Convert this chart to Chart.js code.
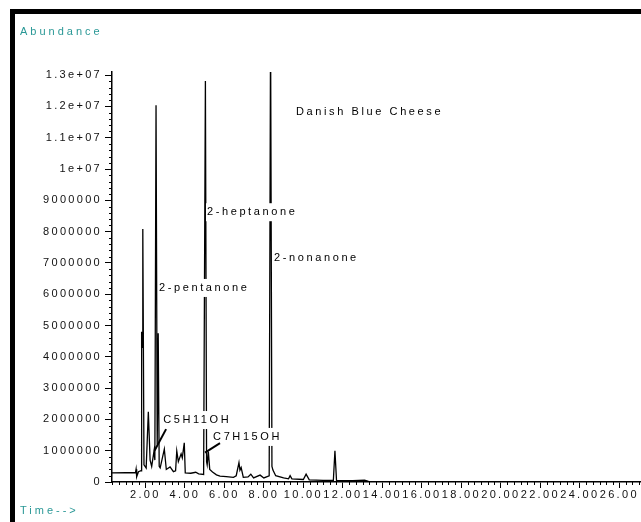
<!DOCTYPE html>
<html>
<head>
<meta charset="utf-8">
<script src="https://cdn.jsdelivr.net/npm/chart.js@4.4.1/dist/chart.umd.min.js"></script>
<style>
  html, body { margin: 0; padding: 0; background: #fff; overflow: hidden; }
  #chart_canvas { display: block; }
</style>
</head>
<body>
<canvas id="chart_canvas" width="641" height="522"></canvas>
<script>
// retention time (min) and abundance
const times = [
  0.31, 1.0, 1.50, 1.53, 1.56, 1.65, 1.78, 1.81, 1.83, 1.87, 1.93, 2.04, 2.15, 2.24, 2.32,
  2.44, 2.48, 2.54, 2.60, 2.65, 2.70, 2.75, 2.96, 3.06, 3.25, 3.42, 3.53, 3.59, 3.67, 3.81,
  3.87, 3.97, 4.02, 4.3, 4.55, 4.7, 4.95, 5.04, 5.10, 5.13, 5.19, 5.26, 5.4, 5.6, 5.78,
  6.1, 6.46, 6.6, 6.74, 6.79, 6.85, 6.96, 7.2, 7.34, 7.48, 7.81, 8.0, 8.27, 8.34, 8.41,
  8.46, 8.6, 9.0, 9.25, 9.33, 9.42, 10.0, 10.14, 10.3, 11.0, 11.52, 11.60, 11.68, 12.5, 13.1,
  13.3, 14.0, 16.0, 27.1,
]
const abundance = [
  290000, 295000, 300000, 410000, 170000, 330000, 360000, 4800000, 4300000, 8080000, 550000, 450000, 2240000, 700000, 500000,
  1000000, 700000, 12040000, 1200000, 4750000, 500000, 450000, 1050000, 400000, 480000, 330000, 360000, 990000, 650000, 900000,
  770000, 1250000, 290000, 280000, 310000, 260000, 240000, 12810000, 650000, 550000, 970000, 400000, 320000, 230000, 190000,
  170000, 150000, 200000, 620000, 380000, 460000, 150000, 160000, 250000, 130000, 220000, 130000, 200000, 14500000, 500000,
  380000, 200000, 130000, 100000, 200000, 100000, 80000, 250000, 70000, 50000, 50000, 1000000, 50000, 40000, 60000,
  20000, 10000, 0, 0,
]

// axis ranges and tick steps
const xMin = 0.31, xMax = 27.1, xStep = 2, xMinorStep = 1 / 3
const yMin = 0, yMax = 13100000, yStep = 1000000, yMinorStep = 200000

// peak labels (anchored in data units)
const peakNames = ['2-pentanone', '2-heptanone', '2-nonanone', 'C5H11OH', 'C7H15OH', 'Danish Blue Cheese']
const peakTimes = [2.69, 5.12, 8.52, 2.90, 5.43, 9.63]
const peakLevels = [6200000, 8620000, 7150000, 1980000, 1440000, 11820000]
// leader lines: [t1, a1, t2, a2]
const leaders = [
  [3.05, 1690000, 2.46, 1000000],
  [5.78, 1240000, 5.02, 940000],
]

const FONT = '"Liberation Sans", Arial, sans-serif'
const TEAL = '#2a9896'

const frame_plugin = {
  id: 'frame',
  beforeDraw(chart) {
    const ctx = chart.ctx
    ctx.letterSpacing = '2.3px'
    ctx.save()
    ctx.fillStyle = '#000'
    ctx.fillRect(10, 9, 631, 5)
    ctx.fillRect(10, 9, 5, 513)
    ctx.fillStyle = TEAL
    ctx.font = '11px ' + FONT
    ctx.letterSpacing = '3px'
    ctx.textBaseline = 'middle'
    ctx.fillText('Abundance', 20, 32)
    ctx.fillText('Time-->', 20, 511)
    ctx.restore()
  },
}

const labels_plugin = {
  id: 'peakLabels',
  afterDatasetsDraw(chart) {
    const ctx = chart.ctx
    const x = chart.scales.x
    const y = chart.scales.y
    ctx.save()
    ctx.font = '11px ' + FONT
    ctx.letterSpacing = '2.6px'
    ctx.textBaseline = 'middle'
    for (let i = 0; i < peakNames.length; i++) {
      const px = x.getPixelForValue(peakTimes[i])
      const py = y.getPixelForValue(peakLevels[i])
      const w = ctx.measureText(peakNames[i]).width
      ctx.fillStyle = '#fff'
      ctx.fillRect(px - 1, py - 9, w, 18)
      ctx.fillStyle = '#000'
      ctx.fillText(peakNames[i], px, py)
    }
    ctx.strokeStyle = '#000'
    ctx.lineWidth = 2
    for (const l of leaders) {
      ctx.beginPath()
      ctx.moveTo(x.getPixelForValue(l[0]), y.getPixelForValue(l[1]))
      ctx.lineTo(x.getPixelForValue(l[2]), y.getPixelForValue(l[3]))
      ctx.stroke()
    }
    ctx.restore()
  },
  afterDraw(chart) {
    // minor tick marks
    const ctx = chart.ctx
    const x = chart.scales.x
    const y = chart.scales.y
    const area = chart.chartArea
    ctx.save()
    ctx.strokeStyle = '#000'
    ctx.lineWidth = 1
    ctx.beginPath()
    for (let k = Math.ceil(xMin / xMinorStep); k * xMinorStep <= xMax; k++) {
      if (k % 6 == 0) continue
      const px = Math.round(x.getPixelForValue(k * xMinorStep)) + 0.5
      ctx.moveTo(px, area.bottom)
      ctx.lineTo(px, area.bottom + 3)
    }
    for (let k = 0; k * yMinorStep <= yMax; k++) {
      if (k % 5 == 0) continue
      const py = Math.round(y.getPixelForValue(k * yMinorStep)) + 0.5
      ctx.moveTo(area.left, py)
      ctx.lineTo(area.left - 3, py)
    }
    ctx.stroke()
    ctx.restore()
  },
}

const points = times.map((t, i) => ({ x: t, y: abundance[i] }))

const config = {
  type: 'line',
  data: {
    datasets: [
      {
        data: points,
        borderColor: '#000',
        borderWidth: 1.3,
        pointRadius: 0,
        tension: 0,
        fill: false,
      },
    ],
  },
  options: {
    responsive: false,
    animation: false,
    devicePixelRatio: 1,
    layout: { padding: { left: 0, top: 72, right: 0, bottom: 0 } },
    plugins: {
      legend: { display: false },
      tooltip: { enabled: false },
    },
    scales: {
      x: {
        type: 'linear',
        min: xMin,
        max: xMax,
        border: { display: true, color: '#000', width: 1.5 },
        grid: { drawOnChartArea: false, drawTicks: true, tickLength: 6, tickColor: '#000' },
        ticks: {
          stepSize: xStep,
          maxTicksLimit: 40,
          includeBounds: false,
          autoSkip: false,
          maxRotation: 0,
          padding: 0,
          color: '#111',
          font: { family: FONT, size: 11 },
          callback: (v) => v.toFixed(2),
        },
        afterFit: (s) => { s.height = 40 },
      },
      y: {
        min: yMin,
        max: yMax,
        border: { display: true, color: '#000', width: 1.5 },
        grid: { drawOnChartArea: false, drawTicks: true, tickLength: 7, tickColor: '#000' },
        ticks: {
          autoSkip: false,
          padding: 3,
          color: '#111',
          font: { family: FONT, size: 11 },
          callback: (v) => (v >= 10000000 ? Math.round(v / 1000000) / 10 + 'e+07' : String(Math.round(v))),
        },
        afterBuildTicks: (s) => {
          const ticks = []
          for (let v = yMin; v <= yMax; v += yStep) ticks.push({ value: v })
          s.ticks = ticks
        },
        afterFit: (s) => { s.width = 112 },
      },
    },
  },
  plugins: [frame_plugin, labels_plugin],
}

const chart_canvas = document.getElementById('chart_canvas')
const chart_element = new Chart(chart_canvas, config)
</script>
</body>
</html>
